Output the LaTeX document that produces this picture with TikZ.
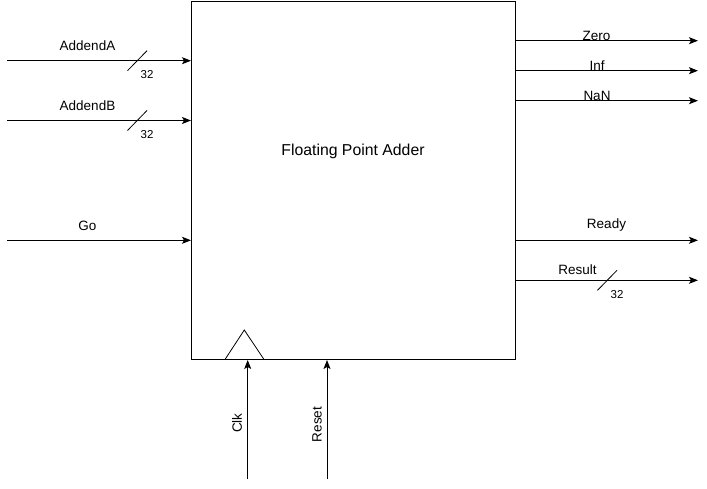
\documentclass[tikz,border=0pt]{standalone}
\usepackage{fontspec}
\setmainfont{Liberation Sans}
\usetikzlibrary{arrows.meta,calc}
\begin{document}
\begin{tikzpicture}[x=1pt,y=-1pt, line width=1pt,
  >={Stealth[length=9pt,width=7pt,inset=2pt]},
  lbl/.style={font=\fontsize{13.5}{15}\selectfont, inner sep=0},
  num/.style={font=\fontsize{11.5}{13}\selectfont, inner sep=0},
  wire/.style={draw, ->},
  slash/.style={draw, line width=0.8pt}]
\useasboundingbox (0,0) rectangle (707,489);
\node[draw, minimum width=324pt, minimum height=358pt, anchor=north west, inner sep=0] (box) at (191,1) {};
\node[font=\fontsize{15.8}{18}\selectfont, inner sep=0] (title) at (353,151) {Floating Point Adder};
% inputs
\coordinate (inA) at (7,60.7);
\coordinate (inB) at (7,120.5);
\coordinate (inGo) at (7,240.3);
\draw[wire] (inA) -- (inA -| box.west);
\draw[wire] (inB) -- (inB -| box.west);
\draw[wire] (inGo) -- (inGo -| box.west);
\node[lbl] (lA) at (87.5,45.5) {AddendA};
\node[lbl] (lB) at (87.5,105.5) {AddendB};
\node[lbl] (lGo) at (87.5,225.5) {Go};
\draw[slash] (127.5,70.7) -- (147,50.7);
\draw[slash] (127.5,130.5) -- (147,110.5);
\node[num] (nA) at (147,74.5) {32};
\node[num] (nB) at (147,134.5) {32};
% outputs
\coordinate (oZero) at (698,40.7);
\coordinate (oInf) at (698,70.7);
\coordinate (oNaN) at (698,100.7);
\coordinate (oReady) at (698,240.3);
\coordinate (oRes) at (698,280.3);
\draw[wire] (oZero -| box.east) -- (oZero);
\draw[wire] (oInf -| box.east) -- (oInf);
\draw[wire] (oNaN -| box.east) -- (oNaN);
\draw[wire] (oReady -| box.east) -- (oReady);
\draw[wire] (oRes -| box.east) -- (oRes);
\node[lbl] (lZero) at (596.5,35.5) {Zero};
\node[lbl] (lInf) at (597,65.5) {Inf};
\node[lbl] (lNaN) at (597,95.5) {NaN};
\node[lbl] (lReady) at (606.5,225.5) {Ready};
\node[lbl] (lRes) at (577.5,270) {Result};
\draw[slash] (597.5,290.3) -- (617,270.3);
\node[num] (nRes) at (617,294.5) {32};
% clock and reset
\draw[line width=0.8pt] (225,359.5) -- (244.3,330) -- (264,359.5);
\coordinate (clk) at (247.7,479);
\coordinate (rst) at (327,479);
\draw[wire] (clk) -- (clk |- box.south);
\draw[wire] (rst) -- (rst |- box.south);
\node[lbl, rotate=90] (lClk) at (237,423) {Clk};
\node[lbl, rotate=90] (lRst) at (317,424.5) {Reset};
\end{tikzpicture}
\end{document}
